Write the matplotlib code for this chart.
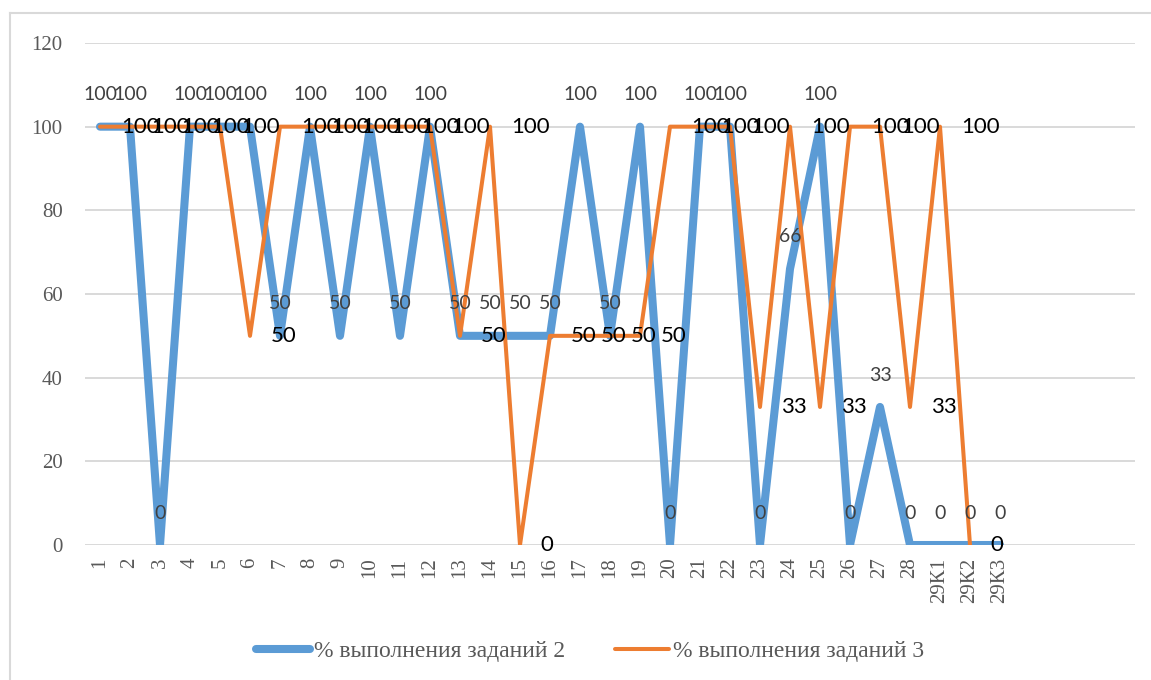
import numpy as np
import matplotlib
matplotlib.use("Agg")
import matplotlib.pyplot as plt
from matplotlib.lines import Line2D

# categories and the two series (29К3 has no value for series 3)
cats = [str(i) for i in range(1, 29)] + ["29К1", "29К2", "29К3"]
task2 = [100, 100, 0, 100, 100, 100, 50, 100, 50, 100, 50, 100, 50, 50, 50, 50,
         100, 50, 100, 0, 100, 100, 0, 66, 100, 0, 33, 0, 0, 0, 0]
task3 = [100, 100, 100, 100, 100, 50, 100, 100, 100, 100, 100, 100, 50, 100, 0, 50,
         50, 50, 50, 100, 100, 100, 33, 100, 33, 100, 100, 33, 100, 0, np.nan]
n_slots = 35  # the axis leaves 4 empty slots after the last category
name2 = "% выполнения заданий 2"
name3 = "% выполнения заданий 3"

blue = "#5B9BD5"
orange = "#ED7D31"
serif = "Liberation Serif"
sans = "Lato"

fig = plt.figure(figsize=(11.51, 6.80), dpi=100)
W, H = 1151, 680
ax = fig.add_axes([85 / W, 1 - 545 / H, (1135 - 85) / W, (545 - 43) / H])

x = np.arange(len(cats))
l2, = ax.plot(x, task2, color=blue, lw=5.8, solid_joinstyle="round",
              solid_capstyle="round", zorder=3)
l3, = ax.plot(x, task3, color=orange, lw=2.9, solid_joinstyle="round",
              solid_capstyle="round", zorder=4)

# data labels: series 2 above the point, series 3 to the right
for xi, v in zip(x, task2):
    ax.annotate(f"{v:g}", (xi, v), xytext=(0, 23), textcoords="offset points",
                ha="center", va="center", fontsize=14, color="#404040",
                family=sans, zorder=6)
for xi, v in zip(x, task3):
    if np.isnan(v):
        continue
    ax.annotate(f"{v:g}", (xi, v), xytext=(15, 0), textcoords="offset points",
                ha="left", va="center", fontsize=16, color="#000000",
                family=sans, zorder=7)

ax.set_xlim(-0.5, n_slots - 0.5)
ax.set_ylim(0, 120)
ax.set_yticks(range(0, 121, 20))
ax.set_xticks(x)
ax.set_xticklabels(cats, rotation=90, family=serif, fontsize=15, color="#595959")
for t in ax.get_yticklabels():
    t.set_family(serif)
    t.set_fontsize(15)
    t.set_color("#595959")
ax.tick_params(axis="both", length=0)
ax.tick_params(axis="y", pad=16)
ax.tick_params(axis="x", pad=9)
ax.yaxis.grid(True, color="#d9d9d9", lw=1.4)
ax.set_axisbelow(True)
for s in ax.spines.values():
    s.set_visible(False)

fig.legend([l2, l3], [name2, name3], loc="center", bbox_to_anchor=(590 / W, 1 - 651 / H),
           ncol=2, frameon=False, prop={"family": serif, "size": 17},
           labelcolor="#595959", handlelength=2.3, handletextpad=0.17,
           columnspacing=2.1)

# chart frame (only its left and top edges are inside the picture)
fig.add_artist(Line2D([10 / W, 10 / W], [0, 1 - 13 / H], color="#d9d9d9", lw=1.5))
fig.add_artist(Line2D([10 / W, 1], [1 - 13 / H, 1 - 13 / H], color="#d9d9d9", lw=1.5))

fig.savefig("out.png", dpi=100)
